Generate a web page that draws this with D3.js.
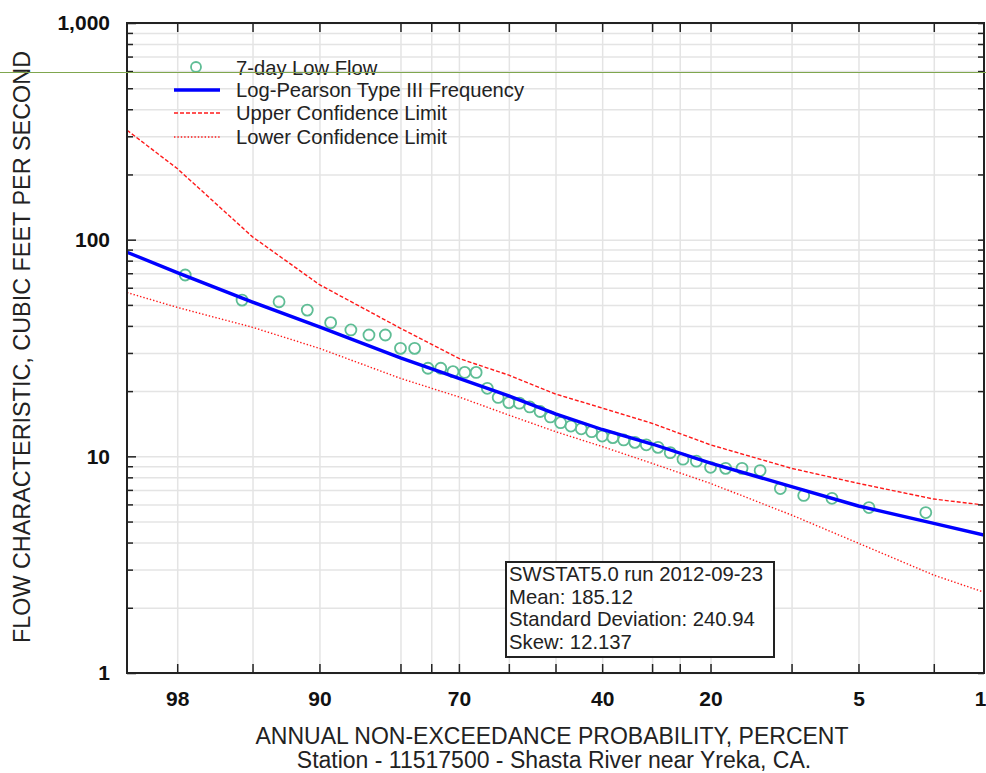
<!DOCTYPE html>
<html lang="en">
  <head>
    <meta charset="utf-8">
    <title>Low flow frequency</title>
    <script src="https://d3js.org/d3.v7.min.js"></script>
    <style type="text/css">
        body {
          margin: 0;
          background: #fff;
        }
        svg text {
          font-family: "Liberation Sans", Arial, sans-serif;
          fill: #222;
        }
        .tick-label text {
          font-weight: bold;
          font-size: 21px;
          fill: #111;
        }
        .grid line {
          stroke: #e4e4e4;
          stroke-width: 1.5;
        }
        .grid path {
          display: none;
        }
    </style>
  </head>
  <body>
    <div id="chart"></div>

    <script>
        // probability axis (non-exceedance, percent)
        var gridPct = [98, 95, 90, 80, 75, 70, 60, 50, 40, 30, 25, 20, 10, 5, 2];
        var labelPct = [98, 90, 70, 40, 20, 5, 1];

        // 7-day low flow observations (plotting position %, cfs)
        var obsPct = [97.78, 95.56, 93.33, 91.11, 88.89, 86.67, 84.44, 82.22, 80.00, 77.78,
                      75.56, 73.33, 71.11, 68.89, 66.67, 64.44, 62.22, 60.00, 57.78, 55.56,
                      53.33, 51.11, 48.89, 46.67, 44.44, 42.22, 40.00, 37.78, 35.56, 33.33,
                      31.11, 28.89, 26.67, 24.44, 22.22, 20.00, 17.78, 15.56, 13.33, 11.11,
                      8.89, 6.67, 4.44, 2.22];
        var obsFlow = [68.7, 52.6, 51.7, 47.3, 41.4, 38.3, 36.3, 36.3, 31.5, 31.5,
                       25.5, 25.5, 24.6, 24.4, 24.4, 20.6, 18.7, 17.7, 17.6, 16.9,
                       16.1, 15.2, 14.3, 13.8, 13.4, 13.0, 12.4, 12.2, 11.9, 11.6,
                       11.3, 11.0, 10.4, 9.7, 9.5, 8.9, 8.8, 8.8, 8.6, 7.1,
                       6.6, 6.4, 5.8, 5.5];

        // fitted curve and confidence limits
        var fitPct = [99, 98, 95, 90, 80, 70, 60, 50, 40, 30, 20, 10, 5, 2, 1];
        var fitFlow = [87.5, 70.5, 51.5, 39.6, 28.5, 22.9, 19.0, 15.7, 13.3, 11.4, 9.3, 7.25, 5.9, 4.9, 4.33];
        var upperFlow = [320, 213, 103, 62, 39, 28.3, 23.7, 19.4, 16.7, 14.2, 11.3, 8.8, 7.5, 6.35, 5.96];
        var lowerFlow = [57, 48.7, 39.4, 31.5, 22.9, 18.8, 15.5, 13.0, 11.1, 9.28, 7.5, 5.36, 3.97, 2.83, 2.36];

        var legendItems = ["7-day Low Flow", "Log-Pearson Type III Frequency",
                           "Upper Confidence Limit", "Lower Confidence Limit"];
        var statLines = ["SWSTAT5.0 run 2012-09-23", "Mean: 185.12",
                         "Standard Deviation: 240.94", "Skew: 12.137"];

        // inverse normal cdf (Acklam)
        function probit(p) {
          var a = [-3.969683028665376e+01, 2.209460984245205e+02, -2.759285104469687e+02,
                   1.383577518672690e+02, -3.066479806614716e+01, 2.506628277459239e+00];
          var b = [-5.447609879822406e+01, 1.615858368580409e+02, -1.556989798598866e+02,
                   6.680131188771972e+01, -1.328068155288572e+01];
          var c = [-7.784894002430293e-03, -3.223964580411365e-01, -2.400758277161838e+00,
                   -2.549732539343734e+00, 4.374664141464968e+00, 2.938163982698783e+00];
          var d = [7.784695709041462e-03, 3.224671290700398e-01, 2.445134137142996e+00,
                   3.754408661907416e+00];
          var q, r, pl = 0.02425;
          if (p < pl) {
            q = Math.sqrt(-2 * Math.log(p));
            return (((((c[0]*q+c[1])*q+c[2])*q+c[3])*q+c[4])*q+c[5]) /
                   ((((d[0]*q+d[1])*q+d[2])*q+d[3])*q+1);
          }
          if (p > 1 - pl) {
            q = Math.sqrt(-2 * Math.log(1 - p));
            return -(((((c[0]*q+c[1])*q+c[2])*q+c[3])*q+c[4])*q+c[5]) /
                    ((((d[0]*q+d[1])*q+d[2])*q+d[3])*q+1);
          }
          q = p - 0.5; r = q * q;
          return (((((a[0]*r+a[1])*r+a[2])*r+a[3])*r+a[4])*r+a[5])*q /
                 (((((b[0]*r+b[1])*r+b[2])*r+b[3])*r+b[4])*r+1);
        }

        var margin = {top: 23, right: 2, bottom: 100, left: 127};
        var W = 986, H = 773;
        var width = W - margin.left - margin.right;
        var height = H - margin.top - margin.bottom;

        var svg = d3.select("#chart").append("svg")
            .attr("width", W)
            .attr("height", H);

        var g = svg.append("g")
            .attr("transform", "translate(" + margin.left + "," + margin.top + ")");

        // x: linear in standard normal deviate, 99% on the left, 1% on the right
        var xz = d3.scaleLinear()
            .domain([probit(0.99), probit(0.01)])
            .range([0, width]);
        var x = function(pct) { return xz(probit(pct / 100)); };

        var y = d3.scaleLog()
            .domain([1, 1000])
            .range([height, 0]);

        var minorVals = [];
        [1, 10, 100].forEach(function(dec) {
          for (var k = 2; k <= 9; k++) minorVals.push(dec * k);
        });
        var majorVals = [1, 10, 100, 1000];

        // grid
        g.append("g").attr("class", "grid")
            .call(d3.axisLeft(y).tickValues(minorVals.concat(majorVals)).tickSize(-width).tickFormat(""));
        g.append("g").attr("class", "grid")
            .call(d3.axisBottom(xz).tickValues(gridPct.map(function(p) { return probit(p / 100); }))
                  .tickSize(height).tickFormat(""));

        g.append("clipPath").attr("id", "plot-clip")
          .append("rect").attr("width", width).attr("height", height);

        var plot = g.append("g").attr("clip-path", "url(#plot-clip)");

        var line = d3.line()
            .x(function(d) { return x(d[0]); })
            .y(function(d) { return y(d[1]); });

        plot.append("path")
            .datum(d3.zip(fitPct, upperFlow))
            .attr("d", line)
            .attr("fill", "none")
            .attr("stroke", "#ff1a1a")
            .attr("stroke-width", 1.4)
            .attr("stroke-dasharray", "4,2");

        plot.append("path")
            .datum(d3.zip(fitPct, lowerFlow))
            .attr("d", line)
            .attr("fill", "none")
            .attr("stroke", "#ff1a1a")
            .attr("stroke-width", 1.4)
            .attr("stroke-dasharray", "1.4,2");

        plot.selectAll(".obs")
            .data(d3.zip(obsPct, obsFlow))
            .enter().append("circle")
              .attr("class", "obs")
              .attr("cx", function(d) { return x(d[0]); })
              .attr("cy", function(d) { return y(d[1]); })
              .attr("r", 5.5)
              .attr("fill", "none")
              .attr("stroke", "#5fbd95")
              .attr("stroke-width", 1.8);

        plot.append("path")
            .datum(d3.zip(fitPct, fitFlow))
            .attr("d", line)
            .attr("fill", "none")
            .attr("stroke", "#0000ff")
            .attr("stroke-width", 3.4);

        // axes, ticks inside the frame
        var tickStyle = function(sel) {
          sel.selectAll(".tick line").attr("stroke", "#222").attr("stroke-width", 1.5);
          sel.select(".domain").remove();
        };

        g.append("g").call(d3.axisLeft(y).tickValues(minorVals).tickSize(-6).tickFormat("")).call(tickStyle);
        g.append("g").attr("class", "tick-label")
            .call(d3.axisLeft(y).tickValues(majorVals).tickSize(-9).tickPadding(17).tickFormat(d3.format(",")))
            .call(tickStyle);
        g.append("g").attr("transform", "translate(" + width + ",0)")
            .call(d3.axisRight(y).tickValues(minorVals.concat(majorVals)).tickSize(-6).tickFormat(""))
            .call(tickStyle);

        var gridZ = gridPct.map(function(p) { return probit(p / 100); });
        g.append("g").attr("transform", "translate(0," + height + ")")
            .call(d3.axisBottom(xz).tickValues(gridZ).tickSize(-9).tickFormat(""))
            .call(tickStyle);
        g.append("g").call(d3.axisTop(xz).tickValues(gridZ).tickSize(-9).tickFormat(""))
            .call(tickStyle);

        var xLab = g.append("g").attr("class", "tick-label")
            .attr("transform", "translate(0," + height + ")")
            .call(d3.axisBottom(xz).tickValues(labelPct.map(function(p) { return probit(p / 100); }))
                  .tickSize(0).tickPadding(18)
                  .tickFormat(function(z, i) { return labelPct[i]; }))
            .call(tickStyle);
        xLab.selectAll(".tick text").filter(function(d, i) { return labelPct[i] === 1; })
            .attr("x", -4);

        // frame
        g.append("rect")
            .attr("width", width)
            .attr("height", height)
            .attr("fill", "none")
            .attr("stroke", "#222")
            .attr("stroke-width", 2);

        // legend
        var leg = g.append("g");
        var legY = [45, 67, 90, 114];
        leg.append("circle")
            .attr("cx", 69).attr("cy", legY[0] - 1).attr("r", 5)
            .attr("fill", "none").attr("stroke", "#5fbd95").attr("stroke-width", 1.8);
        leg.append("line").attr("x1", 47).attr("x2", 93).attr("y1", legY[1]).attr("y2", legY[1])
            .attr("stroke", "#0000ff").attr("stroke-width", 3.4);
        leg.append("line").attr("x1", 47).attr("x2", 93).attr("y1", legY[2]).attr("y2", legY[2])
            .attr("stroke", "#ff1a1a").attr("stroke-width", 1.4).attr("stroke-dasharray", "4,2");
        leg.append("line").attr("x1", 47).attr("x2", 93).attr("y1", legY[3]).attr("y2", legY[3])
            .attr("stroke", "#ff1a1a").attr("stroke-width", 1.4).attr("stroke-dasharray", "1.4,2");
        leg.selectAll(".leg-text")
            .data(legendItems)
            .enter().append("text")
              .attr("x", 109)
              .attr("y", function(d, i) { return legY[i]; })
              .attr("dy", "0.35em")
              .style("font-size", "20.2px")
              .text(function(d) { return d; });

        // stats box
        var box = svg.append("g").attr("transform", "translate(506,562)");
        box.append("rect")
            .attr("width", 268).attr("height", 95)
            .attr("fill", "#fff").attr("stroke", "#222").attr("stroke-width", 2);
        box.selectAll("text")
            .data(statLines)
            .enter().append("text")
              .attr("x", 3)
              .attr("y", function(d, i) { return 12 + i * 22.5; })
              .attr("dy", "0.35em")
              .style("font-size", "20.3px")
              .text(function(d) { return d; });

        // axis titles
        svg.append("text")
            .attr("transform", "translate(22," + 347 + ") rotate(-90)")
            .attr("text-anchor", "middle")
            .attr("dy", "0.35em")
            .style("font-size", "23.4px")
            .text("FLOW CHARACTERISTIC, CUBIC FEET PER SECOND");
        svg.append("text")
            .attr("x", 552).attr("y", 736)
            .attr("text-anchor", "middle")
            .attr("dy", "0.35em")
            .style("font-size", "23px")
            .text("ANNUAL NON-EXCEEDANCE PROBABILITY, PERCENT");
        svg.append("text")
            .attr("x", 554).attr("y", 760)
            .attr("text-anchor", "middle")
            .attr("dy", "0.35em")
            .style("font-size", "23px")
            .text("Station - 11517500 - Shasta River near Yreka, CA.");

        // thin green rule across the page
        svg.append("line")
            .attr("x1", 0).attr("x2", W).attr("y1", 72.5).attr("y2", 72.5)
            .attr("stroke", "#7fa64e").attr("stroke-width", 1);
    </script>
  </body>
</html>
